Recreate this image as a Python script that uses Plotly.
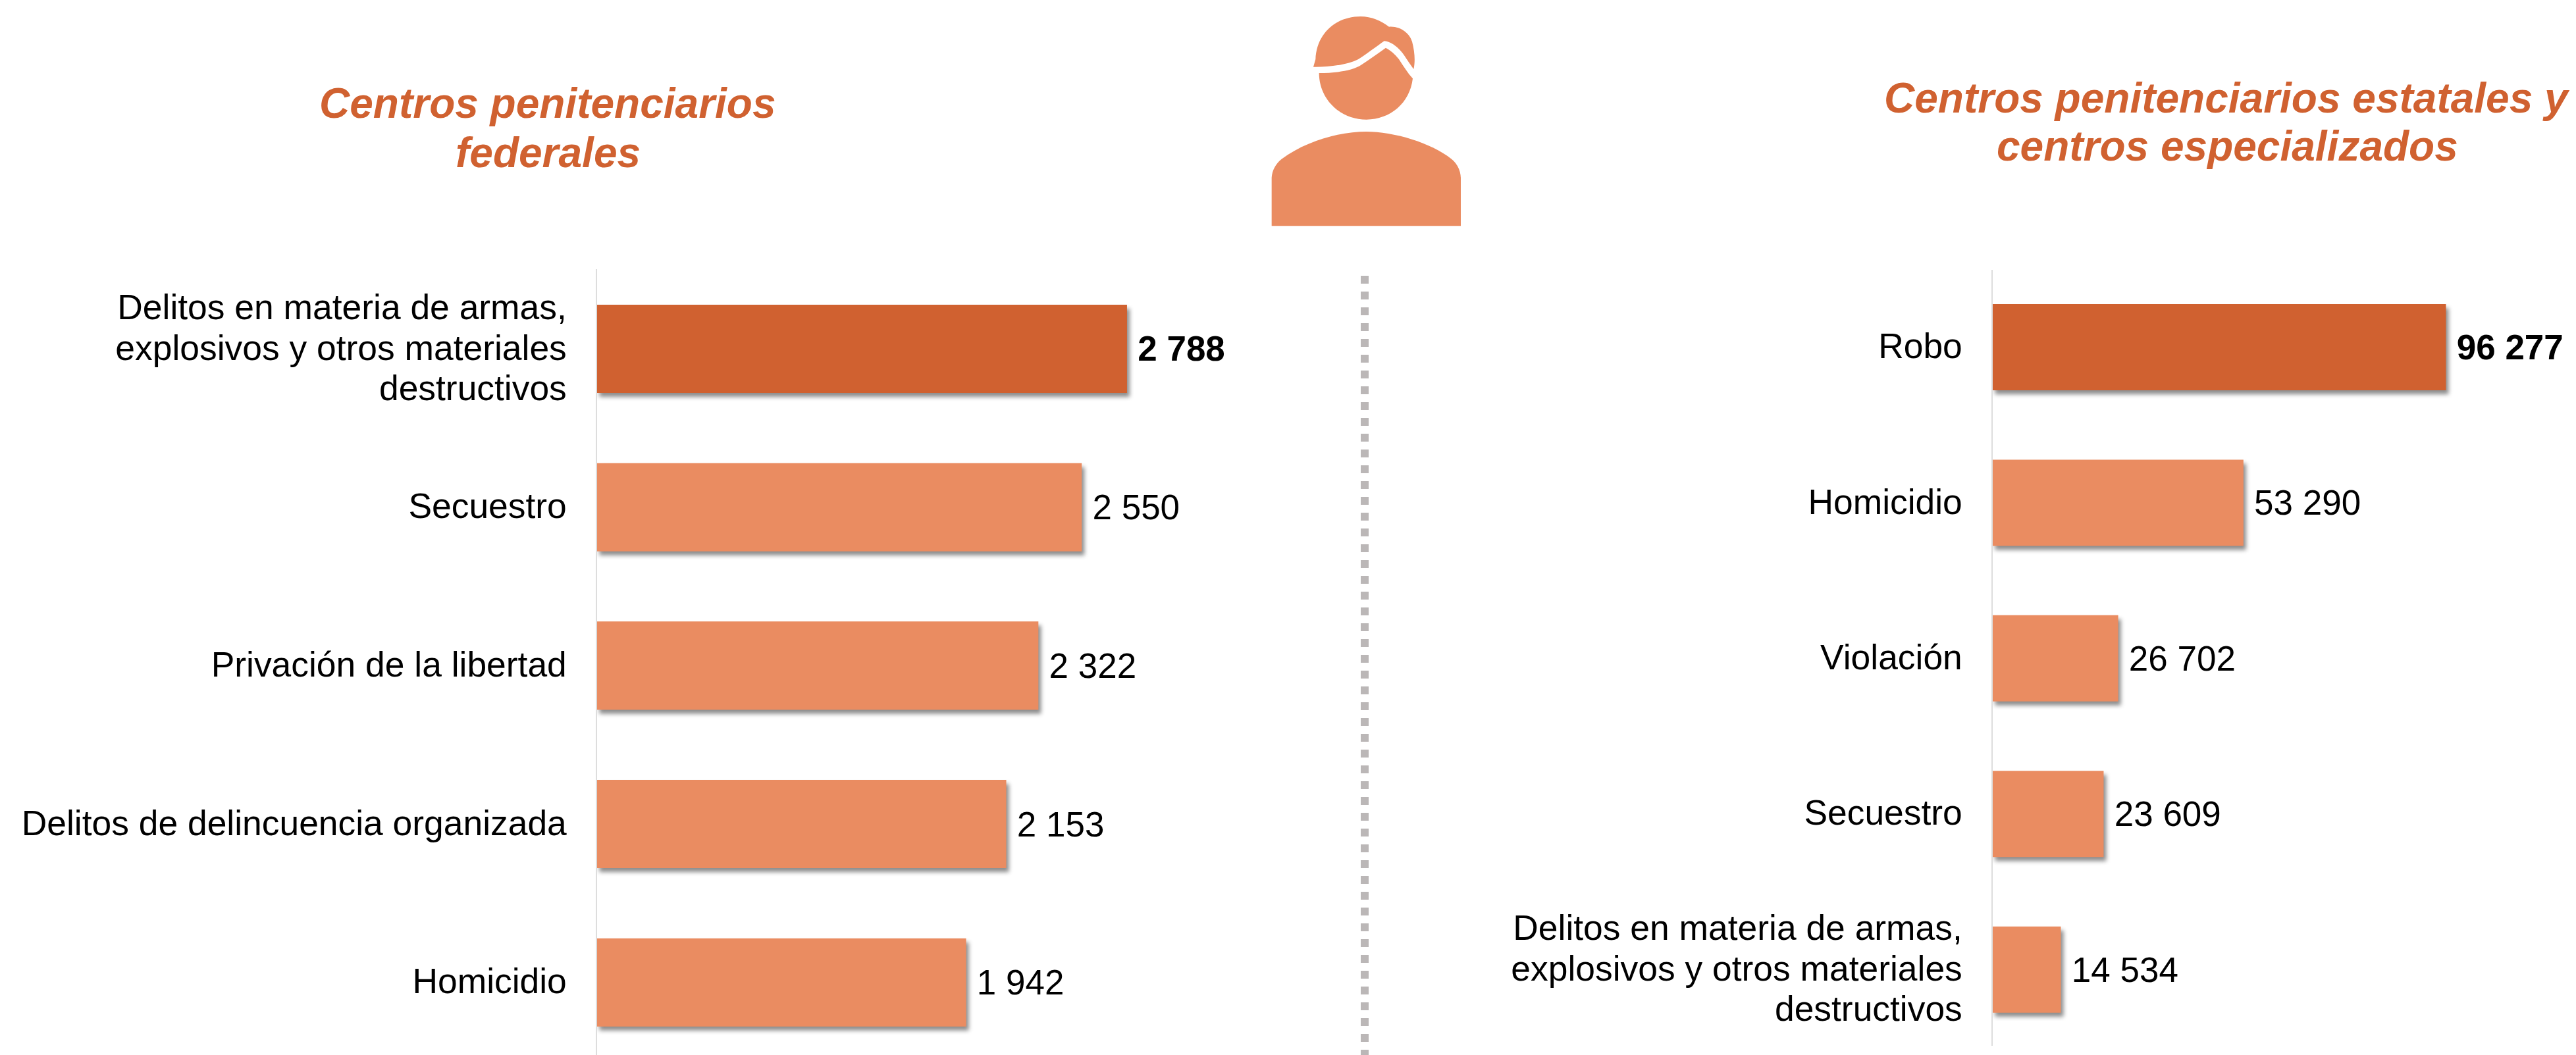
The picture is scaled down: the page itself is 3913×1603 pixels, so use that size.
import plotly.graph_objects as go

W, H = 3913, 1603

fed_categories = ["Delitos en materia de armas,<br>explosivos y otros materiales<br>destructivos",
                  "Secuestro", "Privación de la libertad",
                  "Delitos de delincuencia organizada", "Homicidio"]
fed_values = [2788, 2550, 2322, 2153, 1942]
est_categories = ["Robo", "Homicidio", "Violación", "Secuestro",
                  "Delitos en materia de armas,<br>explosivos y otros materiales<br>destructivos"]
est_values = [96277, 53290, 26702, 23609, 14534]
title_fed = ["Centros penitenciarios", "federales"]
title_est = ["Centros penitenciarios estatales y", "centros especializados"]

DARK, LIGHT = "#D06130", "#EA8C61"
FONT = "Liberation Sans"
FS = 53
TICK_FS = 53.4


def px(x):
    return x / W


def py(y):
    return 1 - y / H


def labels(vals):
    out = []
    for i, v in enumerate(vals):
        s = "\u2005" + f"{v:,}".replace(",", " ")
        out.append(f"<b>{s}</b>" if i == 0 else s)
    return out


fig = go.Figure()
for vals, cats, xa, ya, bw in [(fed_values, fed_categories, "x", "y", 0.557),
                               (est_values, est_categories, "x2", "y2", 0.554)]:
    fig.add_trace(go.Bar(
        x=vals, y=cats, orientation="h", xaxis=xa, yaxis=ya, width=bw,
        marker=dict(color=[DARK] + [LIGHT] * 4, line=dict(width=0)),
        text=labels(vals), textposition="outside", cliponaxis=False,
        constraintext="none", textangle=0,
        textfont=dict(family=FONT, size=FS, color="#000000"),
        hoverinfo="skip", showlegend=False,
    ))

xcommon = dict(visible=False, showgrid=False, zeroline=False)
ycommon = dict(showgrid=False, zeroline=False, showline=True, linecolor="#DDDDDD",
               linewidth=2, ticks="", ticklabelstandoff=33, type="category",
               tickfont=dict(family=FONT, size=TICK_FS, color="#000000"))

fig.update_layout(
    width=W, height=H, margin=dict(l=0, r=0, t=0, b=0), autosize=False,
    paper_bgcolor="#FFFFFF", plot_bgcolor="rgba(0,0,0,0)", showlegend=False,
    xaxis=dict(domain=[px(906.5), px(1900)], range=[0, (1900 - 906.5) / 0.2889], **xcommon),
    xaxis2=dict(domain=[px(3026.5), px(3905)], range=[0, (3905 - 3026.5) / 0.007156],
                anchor="y2", **xcommon),
    yaxis=dict(domain=[py(H), py(409)], range=[4.458, -0.5027], anchor="x", **ycommon),
    yaxis2=dict(domain=[py(1589), py(410)], range=[4.49, -0.497], anchor="x2", **ycommon),
)

# Titles
for lines, cx, ys in [(title_fed, 832, (157, 232)), (title_est, 3383, (149, 222))]:
    for t, y in zip(lines, ys):
        fig.add_annotation(text=f"<b><i>{t}</i></b>", xref="paper", yref="paper",
                           x=px(cx), y=py(y), xanchor="center", yanchor="middle",
                           showarrow=False,
                           font=dict(family=FONT, size=64, color=DARK))

# Dotted divider
fig.add_shape(type="line", xref="paper", yref="paper", x0=px(2073), x1=px(2073),
              y0=py(419), y1=py(H), line=dict(color="#BBB7B7", width=12, dash="12px,12px"))


# Person icon (traced in zoom coordinates: 3x, origin at x=1800)
def ip(pairs):
    return [f"{px(1800 + a / 3):.6f},{py(b / 3):.6f}" for a, b in pairs]


def path(start, segs):
    s = "M" + ip([start])[0]
    for cmd, pts in segs:
        s += cmd + " ".join(ip(pts))
    return s + "Z"


hair = path((585, 305), [
    ("L", [(595, 270), (597, 240)]),
    ("C", [(600, 150), (690, 75), (800, 75)]),
    ("C", [(850, 75), (895, 95), (930, 122)]),
    ("C", [(985, 118), (1025, 155), (1035, 190)]),
    ("C", [(1047, 235), (1050, 280), (1042, 315)]),
    ("C", [(1020, 285), (1005, 260), (990, 240)]),
    ("C", [(960, 205), (935, 190), (908, 187)]),
    ("C", [(875, 210), (830, 245), (790, 270)]),
    ("C", [(740, 297), (650, 306), (585, 305)]),
])
face = path((611, 333), [
    ("C", [(680, 333), (760, 325), (805, 295)]),
    ("C", [(840, 272), (880, 243), (915, 218)]),
    ("C", [(935, 228), (955, 245), (975, 270)]),
    ("C", [(995, 300), (1015, 333), (1038, 358)]),
    ("C", [(1025, 470), (935, 545), (827, 545)]),
    ("C", [(705, 545), (611, 450), (611, 333)]),
])
body = path((395, 1030), [
    ("L", [(395, 810)]),
    ("C", [(397, 775), (415, 745), (440, 725)]),
    ("C", [(550, 645), (700, 600), (827, 600)]),
    ("C", [(950, 600), (1120, 650), (1215, 725)]),
    ("C", [(1240, 745), (1255, 775), (1257, 810)]),
    ("L", [(1257, 1030)]),
])
for p in (hair, face, body):
    fig.add_shape(type="path", xref="paper", yref="paper", path=p,
                  fillcolor=LIGHT, line=dict(width=0))

post = """
document.body.style.margin = '0';
document.documentElement.style.overflow = 'hidden';
document.querySelectorAll('.bars .point path').forEach(function (p) {
  p.style.filter = 'drop-shadow(4px 6px 3px rgba(0,0,0,0.45))';
});
var PITCH = 61.5, FS = 53.4;
document.querySelectorAll('.ytick text, .y2tick text').forEach(function (t) {
  var lines = t.querySelectorAll('tspan.line');
  if (lines.length < 2) return;
  lines.forEach(function (l, i) {
    l.setAttribute('dy', (i * PITCH / FS) + 'em');
  });
  var shift = (lines.length - 1) * (1.3 * FS - PITCH) / 2;
  lines.forEach(function (l) {
    var y = parseFloat(l.getAttribute('y'));
    if (!isNaN(y)) l.setAttribute('y', y + shift - 2);
  });
});
document.querySelectorAll('.ytick text, .y2tick text').forEach(function (t) {
  if (t.querySelectorAll('tspan.line').length < 2) {
    t.setAttribute('y', parseFloat(t.getAttribute('y')) - 2);
  }
});
"""
fig.write_html("out.html", post_script=post, config=dict(displayModeBar=False))
